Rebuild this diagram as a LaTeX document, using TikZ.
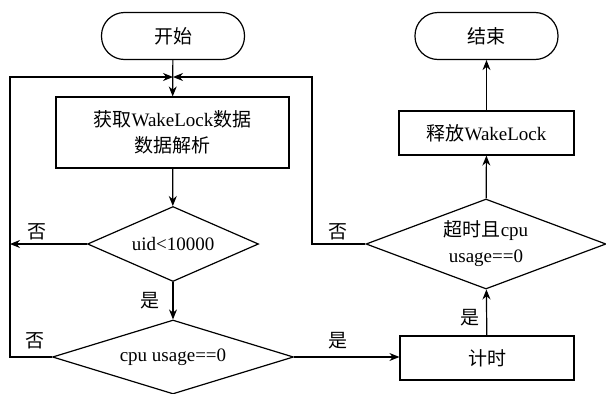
\documentclass[tikz,border=0pt]{standalone}
\usepackage{fontspec}
\setmainfont{Liberation Serif}
\newfontfamily\cjk{Noto Sans CJK SC}
\usetikzlibrary{arrows.meta,shapes.geometric}
\begin{document}
\begin{tikzpicture}[x=1pt,y=-1pt,
  every node/.style={font=\fontsize{19}{26}\selectfont},
  line/.style={line width=1.2pt},
  arr/.style={line, -{Stealth[length=10pt,width=8pt]}},
  term/.style={draw,line width=1.2pt,rectangle,rounded corners=23pt,minimum width=143pt,minimum height=47pt,inner sep=0pt},
  proc/.style={draw,line width=1.2pt,rectangle,inner sep=0pt,align=center},
  dec/.style={draw,line width=1.2pt,diamond,inner sep=0pt,align=center},
  lbl/.style={inner sep=0pt}]
\useasboundingbox (0,0) rectangle (606,394);
\node[term] (start) at (173,36) {\cjk 开始};
\node[term] (stop) at (486.5,36) {\cjk 结束};
\node[proc,minimum width=233pt,minimum height=71pt] (b1) at (172.5,132.5) {{\cjk 获取}WakeLock{\cjk 数据}\\{\cjk 数据解析}};
\node[dec,minimum width=171pt,minimum height=75pt,aspect=2.28] (d1) at (173,244) {uid<10000};
\node[dec,minimum width=241pt,minimum height=74pt,aspect=3.26] (d2) at (173,357) {cpu usage==0};
\node[proc,minimum width=174pt,minimum height=44pt] (tm) at (487,358) {\cjk 计时};
\node[dec,minimum width=240pt,minimum height=90pt,aspect=2.67] (d3) at (486,244) {{\cjk 超时且}cpu\\usage==0};
\node[proc,minimum width=175pt,minimum height=44pt] (b2) at (486.5,133) {{\cjk 释放}WakeLock};
\coordinate (j) at (173,77);
\coordinate (L) at (10,77);
\coordinate (R) at (312,77);
\draw[arr] (start) -- (b1);
\draw[arr] (b1) -- (d1);
\draw[arr] (d1) -- (d2);
\draw[arr] (d1.west) -- (d1.west -| L);
\draw[arr] (d2.west) -| (L) -- (j);
\draw[arr] (d3.west) -| (R) -- (j);
\draw[arr] (d2.east) -- (d2.east -| tm.west);
\draw[arr] (tm) -- (d3);
\draw[arr] (d3) -- (b2);
\draw[arr] (b2) -- (stop);
\node[lbl] (n1) at (37,232) {\cjk 否};
\node[lbl] (n2) at (35,341) {\cjk 否};
\node[lbl] (n3) at (338,232) {\cjk 否};
\node[lbl] (y1) at (150,301) {\cjk 是};
\node[lbl] (y2) at (338,341) {\cjk 是};
\node[lbl] (y3) at (470,318) {\cjk 是};
\end{tikzpicture}
\end{document}
